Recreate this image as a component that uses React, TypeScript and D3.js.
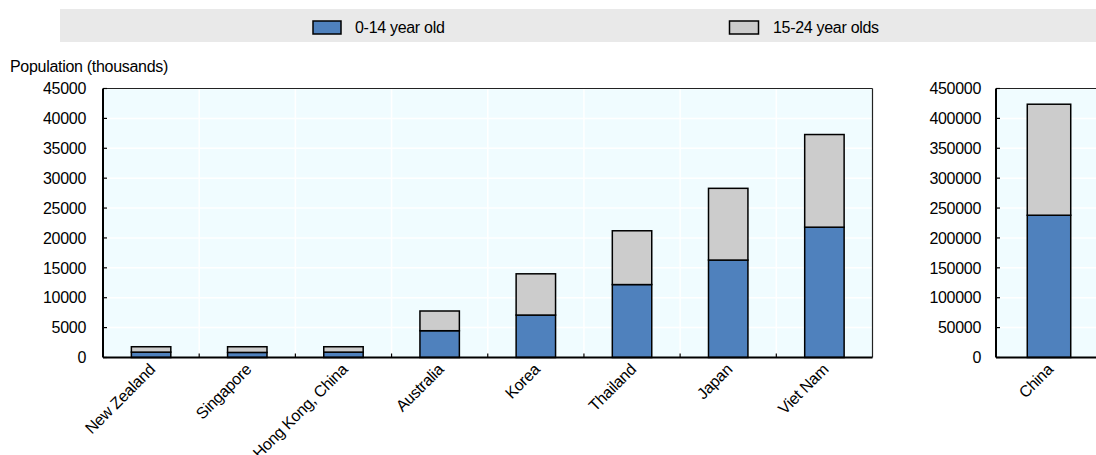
import React from "react";
import * as d3 from "d3";

const categories = ["New Zealand", "Singapore", "Hong Kong, China", "Australia", "Korea", "Thailand", "Japan", "Viet Nam"];
const age0to14 = [900, 850, 900, 4480, 7100, 12200, 16300, 21800];
const age15to24 = [900, 950, 900, 3300, 6900, 9000, 12000, 15500];
const leftTicks = [0, 5000, 10000, 15000, 20000, 25000, 30000, 35000, 40000, 45000];

const categoriesRight = ["China"];
const age0to14Right = [238000];
const age15to24Right = [185700];
const rightTicks = [0, 50000, 100000, 150000, 200000, 250000, 300000, 350000, 400000, 450000];

const seriesNames = ["0-14 year old", "15-24 year olds"];
const colors = ["#4F81BD", "#CCCCCC"];

const FONT = "'Liberation Sans', Arial, sans-serif";
const FS = 16;
const LS = -0.3;

type PanelProps = {
  x0: number; x1: number; y0: number; y1: number;
  cats: string[]; a: number[]; b: number[]; ticks: number[]; max: number; labelX: number;
};

function Panel({ x0, x1, y0, y1, cats, a, b, ticks, max, labelX }: PanelProps) {
  const x = d3.scaleBand<string>().domain(cats).range([x0, x1]).paddingInner(0).paddingOuter(0);
  const y = d3.scaleLinear().domain([0, max]).range([y1, y0]);
  const bw = x.bandwidth() * 0.41;
  const boundaries = cats.slice(1).map((c) => x(c)!);
  return (
    <g>
      <rect x={x0} y={y0} width={x1 - x0} height={y1 - y0} fill="#F0FCFF" />
      {ticks.slice(1).map((t) => (
        <line key={"gh" + t} x1={x0} x2={x1} y1={y(t)} y2={y(t)} stroke="#FFFFFF" strokeWidth={1.5} />
      ))}
      {boundaries.map((bx, i) => (
        <line key={"gv" + i} x1={bx} x2={bx} y1={y0} y2={y1} stroke="#FFFFFF" strokeWidth={1.5} />
      ))}
      {cats.map((c, i) => {
        const cx = x(c)! + x.bandwidth() / 2;
        return (
          <g key={c}>
            <rect x={cx - bw / 2} y={y(a[i])} width={bw} height={y(0) - y(a[i])} fill={colors[0]} stroke="#000" strokeWidth={1.5} />
            <rect x={cx - bw / 2} y={y(a[i] + b[i])} width={bw} height={y(a[i]) - y(a[i] + b[i])} fill={colors[1]} stroke="#000" strokeWidth={1.5} />
            <text
              transform={`translate(${cx + 5},${y1 + 13}) rotate(-45)`}
              textAnchor="end"
              fontFamily={FONT}
              fontSize={FS}
              letterSpacing={LS}
              fill="#000"
            >
              {c}
            </text>
          </g>
        );
      })}
      <line x1={x0} x2={x1} y1={y0} y2={y0} stroke="#222" strokeWidth={1.2} />
      <line x1={x1} x2={x1} y1={y0} y2={y1} stroke="#222" strokeWidth={1.2} />
      {ticks.map((t) => (
        <g key={"yt" + t}>
          <line x1={x0} x2={x0 + 4} y1={y(t)} y2={y(t)} stroke="#000" strokeWidth={1.2} />
          <text x={labelX} y={y(t)} dy="0.36em" textAnchor="end" fontFamily={FONT} fontSize={FS} letterSpacing={LS} fill="#000">
            {t}
          </text>
        </g>
      ))}
      {boundaries.map((bx, i) => (
        <line key={"xt" + i} x1={bx} x2={bx} y1={y1} y2={y1 - 4} stroke="#000" strokeWidth={1.2} />
      ))}
      <line x1={x0} x2={x0} y1={y0} y2={y1} stroke="#000" strokeWidth={2} />
      <line x1={x0} x2={x1} y1={y1} y2={y1} stroke="#000" strokeWidth={2} />
    </g>
  );
}

export default function App() {
  return (
    <div style={{ position: "absolute", left: 0, top: 0 }}>
      <svg width={1096} height={455} style={{ display: "block", background: "#fff" }}>
        <rect x={60} y={9} width={1036} height={33} fill="#E9E9E9" />
        <rect x={313} y={21} width={28} height={13} fill={colors[0]} stroke="#000" strokeWidth={1.5} />
        <text x={355} y={33} fontFamily={FONT} fontSize={FS} letterSpacing={LS} fill="#000">{seriesNames[0]}</text>
        <rect x={729.5} y={21} width={29} height={13} fill={colors[1]} stroke="#000" strokeWidth={1.5} />
        <text x={773} y={33} fontFamily={FONT} fontSize={FS} letterSpacing={LS} fill="#000">{seriesNames[1]}</text>
        <text x={10} y={72} fontFamily={FONT} fontSize={FS} letterSpacing={LS} fill="#000">Population (thousands)</text>
        <Panel x0={103} x1={872.5} y0={88.5} y1={357.5} cats={categories} a={age0to14} b={age15to24} ticks={leftTicks} max={45000} labelX={86} />
        <Panel x0={996} x1={1102} y0={88.5} y1={357.5} cats={categoriesRight} a={age0to14Right} b={age15to24Right} ticks={rightTicks} max={450000} labelX={981} />
      </svg>
    </div>
  );
}
